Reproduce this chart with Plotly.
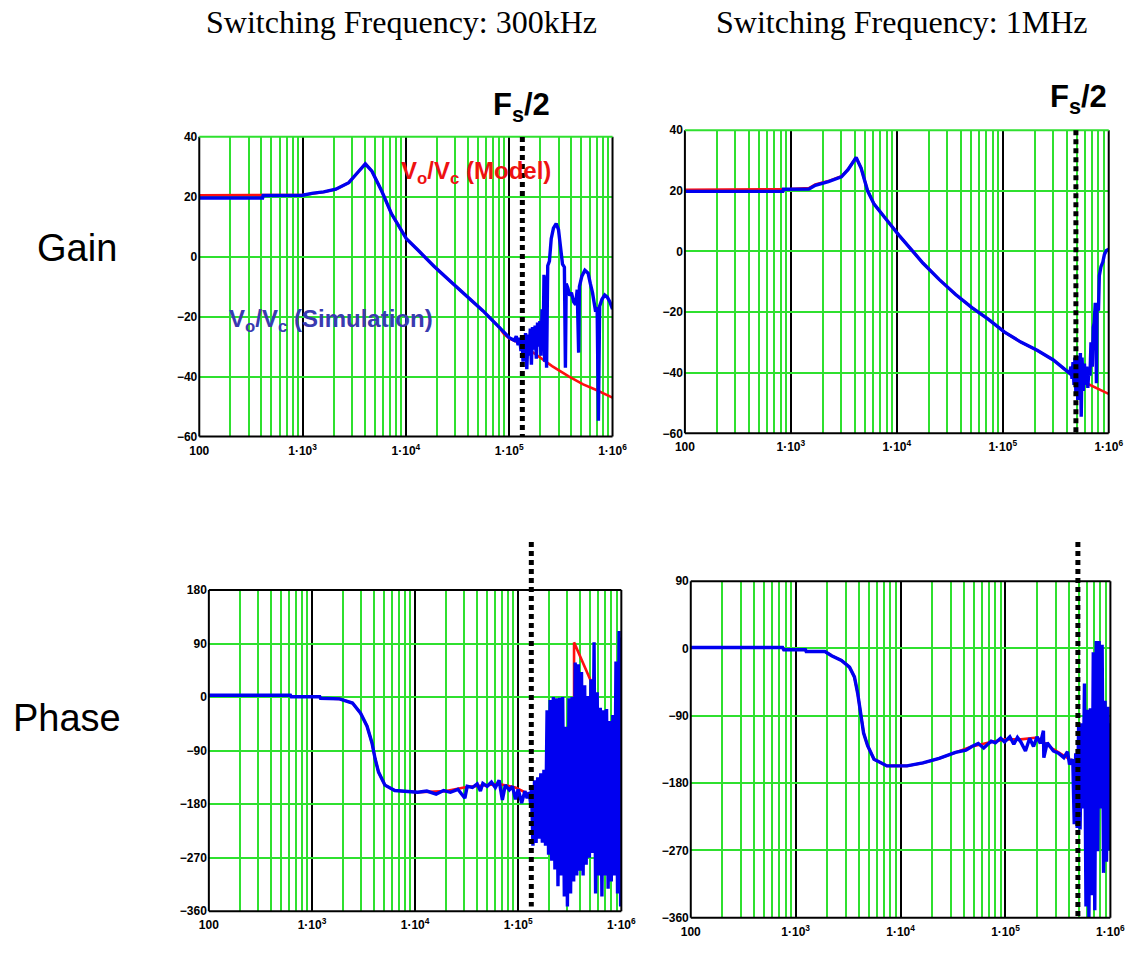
import math
import plotly.graph_objects as go

# ---------------------------------------------------------------- data
# Gain (dB), 300 kHz switching
gain_model_300k_f = [100, 1000, 1270, 1600, 2100, 2800, 3500, 4050, 4690, 5830, 7260,
                     1.01e4, 1.3e4, 1.87e4, 2.69e4, 3.86e4, 5.55e4, 7.98e4, 8.9e4, 1.0e5,
                     1.23e5, 1.84e5, 2.6e5, 3.8e5, 5.2e5, 6.8e5, 1.0e6]
gain_model_300k = [20.5, 20.6, 21.1, 21.6, 22.5, 24.7, 28.5, 31.0, 28.5, 21.9, 14.3,
                   6.0, 2.3, -3.2, -8.2, -13.1, -18.0, -23.5, -25.8, -27.2,
                   -28.6, -32.8, -36.5, -40.0, -42.6, -44.3, -47.0]
gain_sim_300k_f = [100, 410, 415, 1000, 1270, 1600, 2100, 2800, 3500, 4050, 4690, 5830, 7260,
                   1.01e4, 1.3e4, 1.87e4, 2.69e4, 3.86e4, 5.55e4, 7.98e4, 1.0e5, 1.12e5,
                   1.17e5, 1.22e5, 1.26e5, 1.30e5, 1.33e5, 1.36e5, 1.40e5, 1.44e5, 1.48e5,
                   1.52e5, 1.56e5, 1.60e5, 1.64e5, 1.68e5, 1.73e5, 1.78e5, 1.83e5, 1.88e5,
                   1.93e5, 1.98e5, 2.03e5, 2.08e5, 2.13e5, 2.17e5, 2.20e5, 2.25e5, 2.30e5,
                   2.36e5, 2.45e5, 2.55e5, 2.68e5, 2.85e5, 3.00e5, 3.15e5, 3.28e5, 3.42e5,
                   3.50e5, 3.56e5, 3.70e5, 3.85e5, 4.00e5, 4.20e5, 4.40e5, 4.55e5, 4.70e5,
                   4.78e5, 5.05e5, 5.40e5, 5.80e5, 6.10e5, 6.40e5, 6.80e5, 7.10e5, 7.30e5,
                   7.50e5, 7.90e5, 8.40e5, 8.90e5, 9.40e5, 1.0e6]
gain_sim_300k = [19.6, 19.6, 20.4, 20.5, 21.2, 21.6, 22.5, 24.7, 28.5, 31.0, 28.5, 21.9, 14.3,
                 6.0, 2.3, -3.2, -8.2, -13.1, -18.0, -23.5, -27.0, -27.9,
                 -26.5, -29.5, -27.0, -31.5, -26.5, -35.0, -28.0, -25.5, -37.5,
                 -26.0, -33.0, -24.0, -36.0, -23.5, -31.0, -23.0, -34.0, -22.0,
                 -30.0, -21.5, -33.0, -17.5, -30.0, -6.0, -35.0, -6.5, -37.0,
                 -3.0, -1.5, 6.0, 9.5, 11.0, 9.0, 3.0, -2.5, -3.5,
                 -37.0, -9.0, -10.5, -13.0, -12.0, -15.0, -16.0, -11.0, -32.0,
                 -10.0, -6.5, -4.5, -5.5, -9.0, -12.0, -17.5, -17.0, -54.7,
                 -16.5, -14.2, -12.8, -13.5, -15.0, -17.5]

# Gain (dB), 1 MHz switching
gain_model_1m_f = [100, 1000, 1480, 1700, 2260, 3000, 3460, 4130, 4600, 5300, 6100, 8100,
                   1.05e4, 1.77e4, 2.52e4, 3.59e4, 5.11e4, 7.28e4, 1.04e5, 1.48e5, 2.11e5,
                   3.0e5, 4.28e5, 6.1e5, 1.0e6]
gain_model_1m = [20.3, 20.6, 20.9, 22.1, 23.2, 24.8, 27.0, 31.0, 27.5, 20.0, 15.6, 10.2,
                 5.3, -3.9, -9.3, -14.2, -18.5, -22.3, -26.6, -29.9, -32.6,
                 -35.8, -40.2, -43.4, -47.0]
gain_sim_1m_f = [100, 840, 850, 1480, 1700, 2260, 3000, 3460, 4130, 4600, 5300, 6100, 8100,
                 1.05e4, 1.77e4, 2.52e4, 3.59e4, 5.11e4, 7.28e4, 1.04e5, 1.48e5, 2.11e5,
                 3.0e5, 4.28e5, 4.4e5, 4.5e5, 4.6e5, 4.7e5, 4.8e5, 4.9e5, 5.0e5, 5.1e5,
                 5.2e5, 5.3e5, 5.4e5, 5.5e5, 5.6e5, 5.75e5, 5.9e5, 6.05e5, 6.2e5, 6.35e5,
                 6.5e5, 6.65e5, 6.8e5, 7.0e5, 7.15e5, 7.3e5, 7.45e5, 7.55e5, 7.65e5,
                 7.75e5, 8.0e5, 8.15e5, 8.45e5, 8.8e5, 9.1e5, 9.5e5, 1.0e6]
gain_sim_1m = [19.8, 19.8, 20.5, 20.6, 21.8, 23.0, 24.6, 27.0, 31.0, 27.5, 20.0, 15.6, 10.2,
               5.3, -3.9, -9.3, -14.2, -18.5, -22.3, -26.6, -29.9, -32.6,
               -35.8, -40.2, -38.0, -42.0, -36.5, -44.0, -35.0, -47.0, -34.5, -49.0,
               -36.0, -43.0, -33.5, -54.5, -35.0, -46.0, -37.0, -44.0, -38.0, -45.0,
               -38.5, -41.0, -30.0, -38.0, -25.0, -23.5, -17.5, -17.5, -43.5,
               -19.0, -19.5, -8.0, -5.0, -3.5, -1.0, 0.3, 0.7]

# Phase (deg), 300 kHz switching
phase_model_300k_f = [100, 618, 630, 1190, 1210, 1850, 2470, 2960, 3420, 3820, 4100, 4420,
                      5100, 6350, 1.06e4, 2.0e4, 3.16e4, 4.54e4, 6.53e4, 9.4e4, 1.26e5,
                      1.6e5, 2.0e5, 2.5e5, 3.0e5, 3.48e5, 3.48e5, 4.2e5, 5.19e5, 5.19e5,
                      6.0e5, 6.3e5, 6.6e5, 8.0e5, 1.0e6]
phase_model_300k = [3, 3, 0.5, 0.5, -2, -3, -10, -27, -49, -77, -104, -126,
                    -148, -157, -160, -158, -151, -148, -146, -152, -163,
                    -180, -205, -230, -250, -268, 92, 60, 23, -5,
                    -30, -38, -78, -120, -160]
phase_sim_300k_f = [100, 618, 630, 1190, 1210, 1850, 2470, 2960, 3420, 3820, 4100, 4420,
                    5100, 6350, 1.06e4, 1.3e4, 1.6e4, 1.89e4, 2.2e4, 2.6e4, 3.04e4, 3.2e4,
                    3.6e4, 4.0e4, 4.3e4, 4.54e4, 5.0e4, 5.5e4, 6.0e4, 6.53e4, 7.02e4, 7.5e4,
                    8.2e4, 8.8e4, 9.4e4, 1.0e5, 1.08e5, 1.16e5, 1.22e5, 1.28e5, 1.32e5,
                    1.343e5, 1.39e5, 1.44e5, 1.49e5, 1.545e5, 1.60e5, 1.656e5, 1.715e5,
                    1.776e5, 1.84e5, 1.905e5, 1.97e5, 2.04e5, 2.115e5, 2.19e5, 2.27e5,
                    2.35e5, 2.43e5, 2.52e5, 2.61e5, 2.70e5, 2.80e5, 2.90e5, 3.00e5,
                    3.11e5, 3.22e5, 3.33e5, 3.45e5, 3.57e5, 3.70e5, 3.83e5, 3.97e5,
                    4.11e5, 4.26e5, 4.41e5, 4.56e5, 4.73e5, 4.90e5, 5.07e5, 5.25e5,
                    5.44e5, 5.63e5, 5.83e5, 6.04e5, 6.25e5, 6.48e5, 6.71e5, 6.95e5,
                    7.19e5, 7.45e5, 7.71e5, 7.99e5, 8.27e5, 8.57e5, 8.87e5, 9.19e5,
                    9.51e5, 9.85e5, 1.0e6]
phase_sim_300k = [3, 3, 0.5, 0.5, -2, -3, -10, -27, -49, -77, -104, -126,
                  -148, -157, -160, -158, -163, -157, -160, -155, -170, -150,
                  -152, -146, -158, -145, -150, -143, -152, -140, -173, -148,
                  -156, -150, -172, -155, -178, -158, -170, -160, -180,
                  -150, -250, -140, -245, -135, -238, -128, -245,
                  -122, -250, -22, -265, -5, -275, 0, -290,
                  -2, -318, -1, -300, 0, -335, -50, -352,
                  -2, -330, 0, -310, 58, -300, 55, -292,
                  42, -300, 20, -282, 2, -270, 30, -262,
                  92, -330, 8, -300, -18, -335, -22, -300,
                  -20, -322, -40, -310, -30, -300, 60, -330,
                  111, -352, 100]

# Phase (deg), 1 MHz switching
phase_model_1m_f = [100, 750, 770, 1240, 1260, 1900, 2200, 2730, 3260, 3630, 3900, 4130,
                    4440, 4850, 5580, 7400, 1.15e4, 1.63e4, 2.33e4, 3.34e4, 4.78e4, 6.8e4,
                    9.8e4, 1.4e5, 2.0e5, 2.86e5, 4.08e5, 4.6e5, 5.5e5, 6.5e5, 7.7e5,
                    8.5e5, 1.0e6]
phase_model_1m = [1.3, 1.3, -1.7, -1.7, -4, -4, -9.6, -16, -25, -38, -60, -86.5,
                  -113, -130, -148, -157, -157, -153, -147, -139, -131, -126,
                  -121.5, -121.5, -119, -134.7, -148, -155, -170, -185, -205,
                  -212, -225]
phase_sim_1m_f = [100, 750, 770, 1240, 1260, 1900, 2200, 2730, 3260, 3630, 3900, 4130,
                  4440, 4850, 5580, 7400, 1.15e4, 1.63e4, 2.33e4, 3.34e4, 4.2e4, 4.78e4,
                  5.5e4, 6.2e4, 7.3e4, 8.0e4, 9.0e4, 9.8e4, 1.1e5, 1.2e5, 1.3e5, 1.4e5,
                  1.55e5, 1.7e5, 1.85e5, 2.0e5, 2.15e5, 2.3e5, 2.32e5, 2.5e5, 2.7e5,
                  2.86e5, 3.2e5, 3.6e5, 3.9e5, 4.08e5,
                  4.38e5, 4.52e5, 4.67e5, 4.82e5, 4.98e5, 5.14e5, 5.31e5, 5.48e5,
                  5.66e5, 5.85e5, 6.04e5, 6.24e5, 6.44e5, 6.65e5, 6.87e5, 7.10e5,
                  7.33e5, 7.57e5, 7.82e5, 8.07e5, 8.34e5, 8.61e5, 8.89e5, 9.18e5,
                  9.48e5, 9.79e5, 1.0e6]
phase_sim_1m = [1.3, 1.3, -1.7, -1.7, -4, -4, -9.6, -16, -25, -38, -60, -86.5,
                -113, -130, -148, -157, -157, -153, -147, -139, -136, -131,
                -127, -133, -124, -126, -120, -125, -118, -128, -119, -125,
                -137, -120, -131, -118, -127, -110, -146, -126, -132,
                -137, -140, -146, -138, -155,
                -148, -235, -140, -240, -102, -242, -100, -214,
                -47, -345, -82, -359, -80, -330, -5, -350,
                10, -271, 10, -214, 5, -300, -70, -285,
                -78, -270, -100]

# Half switching frequency markers (Hz): 300 kHz design, 1 MHz design
fs_half_hz = [1.34e5, 4.9e5]

# Axis ticks
decade_ticks = [1e2, 1e3, 1e4, 1e5, 1e6]
decade_labels = ["100", "1·10<sup>3</sup>", "1·10<sup>4</sup>", "1·10<sup>5</sup>", "1·10<sup>6</sup>"]
gain_ticks = [40, 20, 0, -20, -40, -60]
phase_ticks_300k = [180, 90, 0, -90, -180, -270, -360]
phase_ticks_1m = [90, 0, -90, -180, -270, -360]

# ---------------------------------------------------------------- layout
W, H = 1143, 955
GREEN = "#2fe02f"
RED = "#ff1010"
BLUE = "#0000f0"
minor_ticks = [k * 10 ** d for d in range(2, 6) for k in range(2, 10)]


def px_x(x):
    return x / W


def px_y(y):
    return 1 - y / H


# (x-axis id, y-axis id, left, top, right, bottom, y range, y ticks, top border colour)
panels = [
    ("x", "y", 193.5, 131.7, 616.0, 436.0, [-60, 40], gain_ticks, GREEN),
    ("x2", "y2", 690.0, 125.0, 1123.3, 432.7, [-60, 40], gain_ticks, GREEN),
    ("x3", "y3", 203.3, 591.7, 625.0, 917.7, [-360, 180], phase_ticks_300k, "black"),
    ("x4", "y4", 696.0, 582.7, 1125.0, 924.3, [-360, 90], phase_ticks_1m, "black"),
]

series = [
    (gain_model_300k_f, gain_model_300k, gain_sim_300k_f, gain_sim_300k),
    (gain_model_1m_f, gain_model_1m, gain_sim_1m_f, gain_sim_1m),
    (phase_model_300k_f, phase_model_300k, phase_sim_300k_f, phase_sim_300k),
    (phase_model_1m_f, phase_model_1m, phase_sim_1m_f, phase_sim_1m),
]

tick_font = dict(family="Liberation Sans, Arial, sans-serif", size=12, color="black",
                 weight="bold")

fig = go.Figure()
layout = dict(
    width=W, height=H, margin=dict(l=0, r=0, t=0, b=0),
    paper_bgcolor="white", plot_bgcolor="white", showlegend=False,
)
shapes = []

for (xa, ya, l, t, r, b, yrange, yticks, topc), (mf, mv, sf, sv) in zip(panels, series):
    fig.add_trace(go.Scatter(x=mf, y=mv, mode="lines", xaxis=xa, yaxis=ya,
                             line=dict(color=RED, width=2.6), hoverinfo="skip"))
    fig.add_trace(go.Scatter(x=sf, y=sv, mode="lines", xaxis=xa, yaxis=ya,
                             line=dict(color=BLUE, width=3.4), hoverinfo="skip"))
    xkey = "xaxis" + xa[1:]
    ykey = "yaxis" + ya[1:]
    layout[xkey] = dict(
        type="log", range=[2, 6], domain=[px_x(l), px_x(r)], anchor=ya,
        tickmode="array", tickvals=decade_ticks, ticktext=decade_labels,
        showgrid=True, gridcolor="black", gridwidth=2,
        minor=dict(tickmode="array", tickvals=minor_ticks, showgrid=True,
                   gridcolor=GREEN, gridwidth=2),
        zeroline=False, showline=False, ticks="",
        tickfont=tick_font, ticklabelstandoff=5,
    )
    layout[ykey] = dict(
        range=yrange, domain=[px_y(b), px_y(t)], anchor=xa,
        tickmode="array", tickvals=yticks,
        showgrid=True, gridcolor=GREEN, gridwidth=2,
        zeroline=False, showline=False, ticks="",
        tickfont=tick_font, ticklabelstandoff=1,
    )
    dx, dy = xa + " domain", ya + " domain"
    # frame: left, bottom, right in black; top edge colour per panel
    for x0, y0, x1, y1, c in [(0, 0, 0, 1, "black"), (0, 0, 1, 0, "black"),
                              (1, 0, 1, 1, "black"), (0, 1, 1, 1, topc)]:
        shapes.append(dict(type="line", xref=dx, yref=dy, x0=x0, y0=y0, x1=x1, y1=y1,
                           line=dict(color=c, width=2)))

# Fs/2 dotted markers, placed on each panel's frequency axis
marker_spans = [("x", fs_half_hz[0], 132, 436), ("x2", fs_half_hz[1], 125, 433),
                ("x3", fs_half_hz[0], 543, 913), ("x4", fs_half_hz[1], 543, 923)]
for xa, f, ytop, ybot in marker_spans:
    shapes.append(dict(type="line", xref=xa, yref="paper",
                       x0=f, x1=f, y0=px_y(ytop), y1=px_y(ybot),
                       line=dict(color="black", width=5, dash="5px,4px")))

layout["shapes"] = shapes

serif = "Liberation Serif, Times New Roman, serif"
sans = "Liberation Sans, Arial, sans-serif"
annotations = [
    dict(text="Switching Frequency: 300kHz", x=px_x(400), y=px_y(15),
         font=dict(family=serif, size=32, color="black")),
    dict(text="Switching Frequency: 1MHz", x=px_x(912), y=px_y(15),
         font=dict(family=serif, size=32, color="black")),
    dict(text="Gain", x=px_x(68), y=px_y(245),
         font=dict(family=sans, size=38, color="black")),
    dict(text="Phase", x=px_x(58), y=px_y(722),
         font=dict(family=sans, size=38, color="black")),
    dict(text="<b>F<sub>s</sub>/2</b>", x=px_x(523), y=px_y(101),
         font=dict(family=sans, size=31, color="black")),
    dict(text="<b>F<sub>s</sub>/2</b>", x=px_x(1092), y=px_y(93),
         font=dict(family=sans, size=31, color="black")),
    dict(text="<b>V<sub>o</sub>/V<sub>c</sub> (Model)</b>", x=px_x(476), y=px_y(168),
         font=dict(family=sans, size=24, color="#ee1111")),
    dict(text="<b>V<sub>o</sub>/V<sub>c</sub> (Simulation)</b>", x=px_x(328), y=px_y(318),
         font=dict(family=sans, size=24, color="#3a3ab0")),
]
for a in annotations:
    a.update(xref="paper", yref="paper", showarrow=False, xanchor="center", yanchor="middle")
layout["annotations"] = annotations

fig.update_layout(**layout)
fig.write_html("out.html")
